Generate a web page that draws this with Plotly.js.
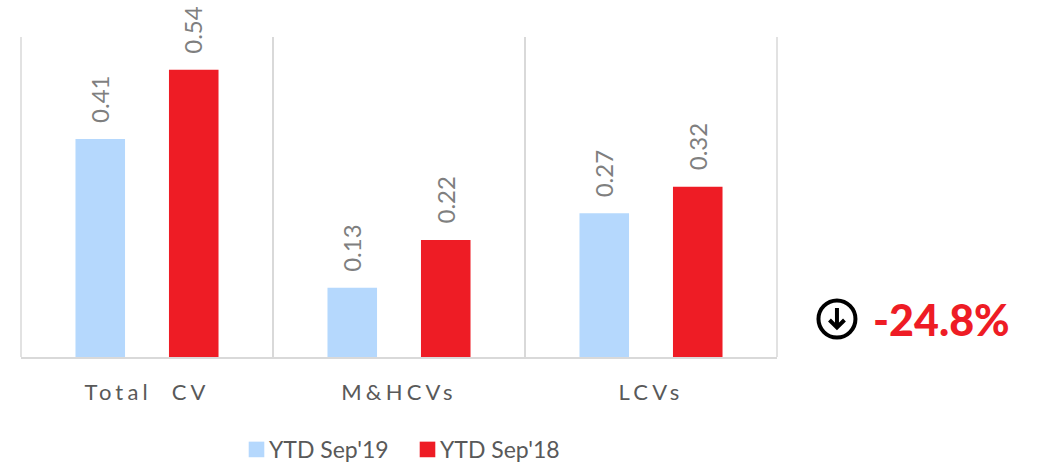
<!DOCTYPE html>
<html>
<head>
<meta charset="utf-8">
<script src="https://cdn.plot.ly/plotly-3.0.1.min.js"></script>
<style>
html,body{margin:0;padding:0;background:#fff}
.xtick text{letter-spacing:4.2px}
.legendpoints path{transform:translate(27.5px,0) scale(1.3)}
</style>
</head>
<body>
<div id="chart" style="width:1038px;height:462px"></div>
<script>
const categories = ["Total  CV", "M&HCVs", "LCVs"];
const ytdSep19 = [0.41, 0.13, 0.27];
const ytdSep18 = [0.54, 0.22, 0.32];
const seriesNames = ["YTD Sep'19", "YTD Sep'18"];
const changeLabel = "-24.8%";

const W = 1038, H = 462, L = 20.5, R = 777, T = 37, B = 357;
const px = x => (x - L) / (R - L);
const py = y => (B - y) / (B - T);

const fontFam = "Lato, 'Open Sans', sans-serif";
const blue = "#b5d8fd", red = "#ee1c25", gridColor = "#d9d9d9";
const mk = (name, y, color) => ({
  type: "bar", name, x: categories, y,
  marker: {color},
  hoverinfo: "x+y"
});
const valueLabels = (y, shift) => y.map((v, i) => ({
  xref: "x", yref: "y", x: categories[i], y: v,
  xshift: shift, yshift: 14, xanchor: "center", yanchor: "bottom",
  text: v.toFixed(2), textangle: -90, showarrow: false,
  font: {family: fontFam, size: 24, color: "#7f7f7f"}
}));
const edgeLine = x => ({
  type: "line", xref: "paper", yref: "paper", x0: x, x1: x, y0: 0, y1: 1,
  line: {color: gridColor, width: 1.5}
});

Plotly.newPlot("chart", [
  mk(seriesNames[0], ytdSep19, blue),
  mk(seriesNames[1], ytdSep18, red)
], {
  width: W, height: H,
  margin: {l: L, r: W - R, t: T, b: H - B, pad: 0},
  paper_bgcolor: "#fff", plot_bgcolor: "#fff",
  barmode: "group", bargap: 0.258, bargroupgap: 0.47,
  xaxis: {
    type: "category", tickson: "boundaries", ticks: "",
    showgrid: true, gridcolor: gridColor, gridwidth: 1.5,
    showline: true, linecolor: gridColor, linewidth: 2,
    tickfont: {family: fontFam, size: 22, color: "#595959"},
    ticklabelstandoff: 15, fixedrange: true
  },
  yaxis: {range: [0, 0.6015], visible: false, showgrid: false, zeroline: false, fixedrange: true},
  showlegend: true,
  legend: {
    orientation: "h", x: 229 / W, xref: "container", xanchor: "left",
    y: 1 - 428 / H, yref: "container", yanchor: "top", entrywidth: 126,
    font: {family: fontFam, size: 23, color: "#595959"},
    bgcolor: "rgba(0,0,0,0)", traceorder: "normal"
  },
  annotations: [
    ...valueLabels(ytdSep19, -47.5),
    ...valueLabels(ytdSep18, 46),
    {
      xref: "paper", yref: "paper", x: px(871), y: py(319), xanchor: "left", yanchor: "middle",
      text: changeLabel, showarrow: false,
      font: {family: fontFam, size: 43, weight: 900, color: red}
    }
  ],
  shapes: [
    edgeLine(0), edgeLine(1),
    {type: "circle", xref: "paper", yref: "paper", x0: px(818.5), x1: px(855.5), y0: py(300.5), y1: py(337.5),
     line: {color: "#000", width: 4}, fillcolor: "#fff"},
    {type: "line", xref: "paper", yref: "paper", x0: px(837), x1: px(837), y0: py(308), y1: py(327),
     line: {color: "#000", width: 4}},
    {type: "path", xref: "paper", yref: "paper",
     path: `M ${px(829.5)} ${py(320)} L ${px(837)} ${py(327.5)} L ${px(844.5)} ${py(320)}`,
     line: {color: "#000", width: 4}}
  ]
}, {displayModeBar: false});
</script>
</body>
</html>
